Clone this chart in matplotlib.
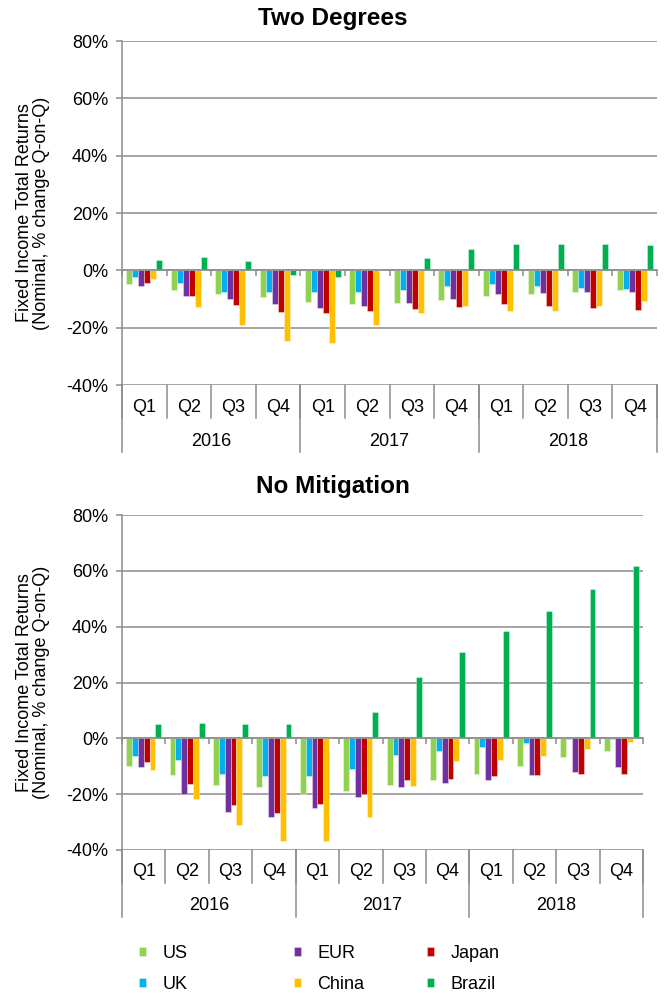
import numpy as np
import matplotlib
matplotlib.use("Agg")
import matplotlib.pyplot as plt
from matplotlib.transforms import blended_transform_factory
from matplotlib.ticker import FuncFormatter

plt.rcParams['font.family'] = ['Liberation Sans', 'DejaVu Sans']

# --- data (% change Q-on-Q) ---
quarters = ['Q1', 'Q2', 'Q3', 'Q4'] * 3
years = ['2016', '2017', '2018']
series_names = ['US', 'UK', 'EUR', 'Japan', 'China', 'Brazil']
series_colors = ['#92D050', '#00B0F0', '#7030A0', '#C00000', '#FFC000', '#00B050']

two_us = [-4.9, -6.8, -8.4, -9.3, -11.0, -11.6, -11.4, -10.5, -8.9, -8.2, -7.7, -6.8]
two_uk = [-2.3, -4.4, -7.6, -7.7, -7.7, -7.7, -7.0, -5.6, -4.7, -5.4, -6.3, -6.4]
two_eur = [-5.6, -8.9, -9.9, -11.9, -13.0, -12.4, -11.4, -9.9, -8.2, -7.9, -7.6, -7.5]
two_japan = [-4.4, -8.8, -12.2, -14.5, -14.9, -14.3, -13.4, -12.7, -11.6, -12.4, -13.1, -13.9]
two_china = [-2.9, -12.8, -19.2, -24.5, -25.5, -19.0, -15.0, -12.4, -14.3, -14.1, -12.4, -10.6]
two_brazil = [3.5, 4.7, 3.1, -1.7, -2.3, 0.5, 4.3, 7.6, 9.3, 9.1, 9.3, 8.9]

nomit_us = [-9.8, -13.1, -16.6, -17.5, -19.9, -18.7, -16.8, -14.9, -12.7, -10.0, -6.8, -4.7]
nomit_uk = [-6.2, -7.8, -12.7, -13.6, -13.6, -11.1, -6.0, -4.6, -3.2, -1.7, -0.3, -0.2]
nomit_eur = [-10.2, -20.1, -26.3, -28.1, -24.8, -21.1, -17.6, -16.0, -14.8, -13.3, -11.9, -10.4]
nomit_japan = [-8.6, -16.2, -23.8, -26.9, -23.7, -20.0, -15.1, -14.4, -13.6, -13.1, -12.8, -12.8]
nomit_china = [-11.4, -21.8, -31.2, -36.6, -36.7, -28.2, -17.1, -8.2, -7.7, -6.2, -3.8, -1.3]
nomit_brazil = [5.0, 5.6, 5.0, 5.3, 0.0, 9.5, 22.0, 31.1, 38.5, 45.5, 53.4, 61.9]

two_degrees = [two_us, two_uk, two_eur, two_japan, two_china, two_brazil]
no_mitigation = [nomit_us, nomit_uk, nomit_eur, nomit_japan, nomit_china, nomit_brazil]

W, H = 666, 993
GRID = '#8c8c8c'
FS = 13

fig = plt.figure(figsize=(W / 100, H / 100), dpi=100)


def px_axes(left, top, right, bottom):
    return fig.add_axes([left / W, (H - bottom) / H, (right - left) / W, (bottom - top) / H])


def draw_panel(ax, data, title, title_y):
    x = np.arange(len(quarters))
    w = 0.1345
    bars = []
    for j, (vals, col) in enumerate(zip(data, series_colors)):
        b = ax.bar(x + (j - 2.5) * w, vals, width=w, color=col,
                   edgecolor=(1, 1, 1, 0.5), linewidth=0.5, label=series_names[j])
        bars.append(b)

    ax.set_xlim(-0.5, len(quarters) - 0.5)
    ax.set_ylim(-40, 80)
    ax.set_yticks(np.arange(-40, 81, 20))
    ax.yaxis.set_major_formatter(FuncFormatter(lambda v, p: f'{v:.0f}%'))
    ax.set_axisbelow(True)
    ax.yaxis.grid(True, color=GRID, linewidth=1.1)
    ax.tick_params(axis='y', direction='out', length=4, width=1.1, color=GRID,
                   labelsize=FS, pad=6)

    # category axis crosses at zero, ticks between categories
    ax.spines['bottom'].set_position(('data', 0))
    ax.spines['bottom'].set_color(GRID)
    ax.spines['bottom'].set_linewidth(1.1)
    ax.spines['left'].set_color(GRID)
    ax.spines['left'].set_linewidth(1.1)
    ax.spines['top'].set_visible(False)
    ax.spines['right'].set_visible(False)
    ax.set_xticks(np.arange(-0.5, len(quarters), 1.0))
    ax.tick_params(axis='x', direction='out', length=4, width=1.1, color=GRID,
                   labelbottom=False)

    # multi-level labels below the plot area (y in figure pixels from top)
    tr = blended_transform_factory(ax.transData, fig.dpi_scale_trans)
    bb = ax.get_position()
    y0 = H - bb.y0 * H

    def fy(p):
        return (H - p) / 100

    for k in range(len(quarters) + 1):
        ax.plot([k - 0.5, k - 0.5], [fy(y0), fy(y0 + 33)], transform=tr,
                color=GRID, lw=1.1, clip_on=False)
    for k in range(0, len(quarters) + 1, 4):
        ax.plot([k - 0.5, k - 0.5], [fy(y0), fy(y0 + 67)], transform=tr,
                color=GRID, lw=1.1, clip_on=False)
    for i, q in enumerate(quarters):
        ax.text(i, fy(y0 + 22), q, transform=tr, ha='center', va='center', fontsize=FS)
    for i, yr in enumerate(years):
        ax.text(4 * i + 1.5, fy(y0 + 56), yr, transform=tr, ha='center', va='center', fontsize=FS)

    fig.text(0.5, (H - title_y) / H, title, ha='center', va='center',
             fontsize=17.5, fontweight='bold')
    yc = H - (bb.y0 + bb.height / 2) * H
    fig.text(33 / W, (H - yc) / H,
             'Fixed Income Total Returns\n(Nominal, % change Q-on-Q)',
             rotation=90, ha='center', va='center', fontsize=FS,
             multialignment='center', linespacing=1.05)
    return bars


ax1 = px_axes(122, 41, 657, 385)
draw_panel(ax1, two_degrees, 'Two Degrees', 19)

ax2 = px_axes(122, 515, 643, 850)
bars = draw_panel(ax2, no_mitigation, 'No Mitigation', 487)

# legend, three columns of two entries
col_x = [139, 294, 427]
order = [[0, 1], [2, 4], [3, 5]]
for cx, idx in zip(col_x, order):
    lg = fig.legend([bars[i] for i in idx], [series_names[i] for i in idx],
                    loc='upper left', bbox_to_anchor=(cx / W, (H - 945) / H),
                    frameon=False, fontsize=FS, handlelength=0.4, handleheight=0.4,
                    handletextpad=0.9, labelspacing=0.75, borderpad=0, borderaxespad=0)

fig.savefig('out.png', dpi=100)
